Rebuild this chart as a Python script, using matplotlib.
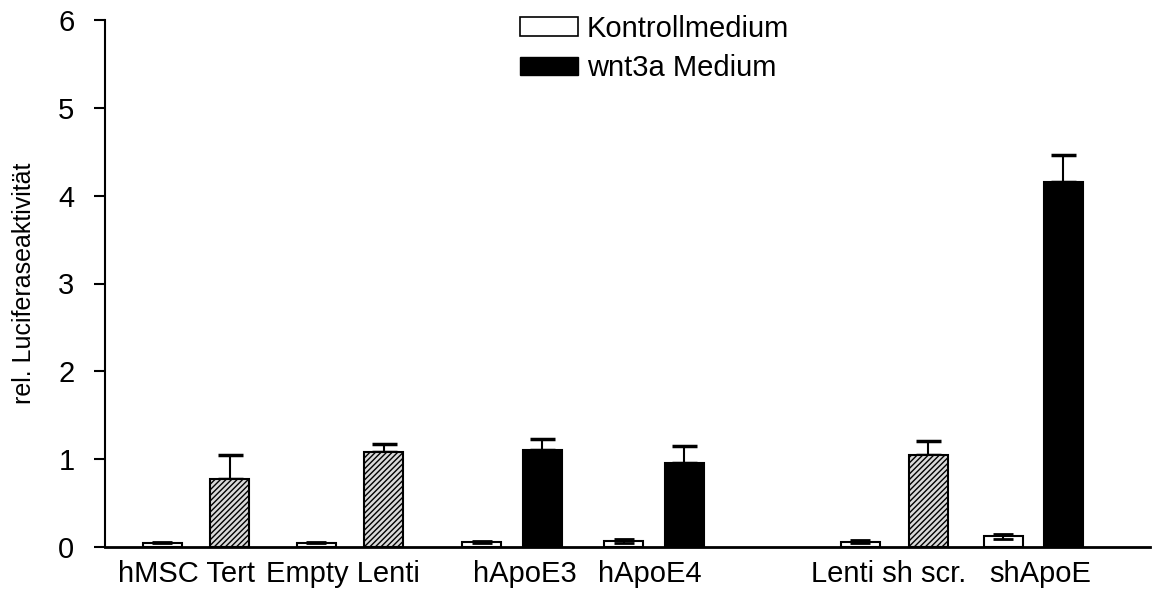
"""
Luciferase-Reporter: Kontrollmedium vs. wnt3a Medium.
"""
import matplotlib
matplotlib.use("Agg")
import matplotlib.pyplot as plt
from matplotlib.patches import Patch

plt.rcParams['font.family'] = ['Liberation Sans', 'DejaVu Sans']

# Daten
groups = ["hMSC Tert", "Empty Lenti", "hApoE3", "hApoE4", "Lenti sh scr.", "shApoE"]
kontroll = [0.05, 0.05, 0.06, 0.07, 0.06, 0.12]
kontroll_err = [0.01, 0.01, 0.01, 0.02, 0.02, 0.03]
wnt3a = [0.77, 1.08, 1.11, 0.96, 1.05, 4.16]
wnt3a_err = [0.28, 0.09, 0.12, 0.19, 0.16, 0.30]
hatched = [True, True, False, False, True, False]

# Layout (x-Positionen der Balken, Beschriftungen)
pos_ctrl = [5.7, 21.1, 37.65, 51.85, 75.5, 89.8]
pos_wnt = [12.45, 27.85, 43.7, 57.9, 82.3, 95.8]
pos_label = [8.2, 23.8, 42.0, 54.5, 78.4, 93.5]
width = 3.9

fig = plt.figure(figsize=(11.52, 5.99), dpi=100)
ax = fig.add_axes([105 / 1152, 1 - 547 / 599, 1045 / 1152, 527 / 599])

ax.bar(pos_ctrl, kontroll, width, color='white', edgecolor='black', linewidth=1.5,
       yerr=kontroll_err, error_kw=dict(ecolor='black', elinewidth=1.5, capsize=7, capthick=2),
       zorder=3)
for x, v, e, h in zip(pos_wnt, wnt3a, wnt3a_err, hatched):
    ax.errorbar(x, v, yerr=[[0], [e]], color='black', elinewidth=1.5, capsize=9,
                capthick=2.5, zorder=2)
    if h:
        ax.bar(x, v, width, color='#d9d9d9', edgecolor='black', hatch='//////',
               linewidth=1.5, zorder=3)
    else:
        ax.bar(x, v, width, color='black', edgecolor='black', linewidth=1.5, zorder=3)

ax.set_xlim(0, 104.5)
ax.set_ylim(0, 6)
ax.set_yticks(range(7))
ax.set_xticks(pos_label)
ax.set_xticklabels(groups, fontsize=21)
ax.tick_params(axis='x', length=0, pad=9)
ax.tick_params(axis='y', labelsize=21, length=8, width=1.5, pad=14)
ax.set_ylabel('rel. Luciferaseaktivität', fontsize=18, labelpad=16)

for s in ['top', 'right']:
    ax.spines[s].set_visible(False)
ax.spines['left'].set_linewidth(1.5)
ax.spines['bottom'].set_linewidth(2)

handles = [Patch(facecolor='white', edgecolor='black', linewidth=1.2, label='Kontrollmedium'),
           Patch(facecolor='black', edgecolor='black', label='wnt3a Medium')]
ax.legend(handles=handles, loc='upper left', bbox_to_anchor=(0.372, 1.06), frameon=False,
          fontsize=21, handlelength=2.0, handleheight=0.6, handletextpad=0.3,
          labelspacing=0.4)

fig.savefig("out.png", dpi=100)
